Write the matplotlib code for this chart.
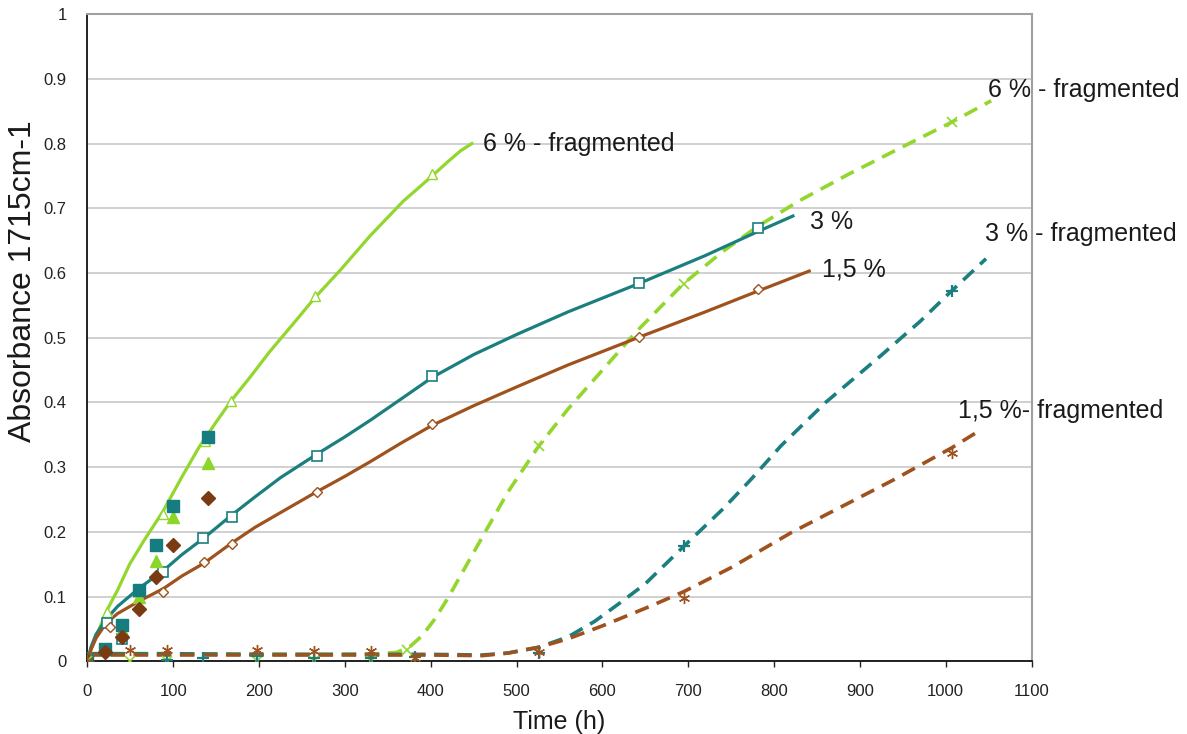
import matplotlib
matplotlib.use("Agg")
import matplotlib.pyplot as plt

plt.rcParams['font.family'] = ['Liberation Sans', 'DejaVu Sans']

green = '#93d62e'
teal = '#1b7f7f'
brown = '#a0521e'

## measured points (open markers) with their fitted curves
t6 = [0, 23, 88, 137, 167, 265, 401]
a6 = [0, 0.077, 0.228, 0.341, 0.402, 0.564, 0.753]
t3 = [0, 23, 40, 88, 135, 168, 267, 402, 643, 781]
a3 = [0, 0.060, 0.035, 0.138, 0.191, 0.223, 0.317, 0.441, 0.584, 0.670]
t15 = [0, 26, 88, 136, 168, 267, 402, 643, 781]
a15 = [0, 0.054, 0.108, 0.154, 0.182, 0.261, 0.367, 0.501, 0.576]

fit6_t = [0, 5, 12, 23, 35, 49, 65, 88, 110, 130, 150, 167, 190, 212, 240, 265,
          295, 329, 368, 400, 420, 435, 448]
fit6_a = [0, 0.022, 0.045, 0.080, 0.110, 0.150, 0.185, 0.232, 0.285, 0.331, 0.370,
          0.402, 0.440, 0.478, 0.522, 0.562, 0.605, 0.657, 0.711, 0.748, 0.772, 0.789, 0.800]
fit3_t = [0, 4, 10, 21, 35, 60, 89, 110, 135, 167, 195, 225, 267, 300, 330, 365,
          402, 450, 500, 560, 643, 720, 781, 822]
fit3_a = [0, 0.022, 0.042, 0.064, 0.085, 0.113, 0.141, 0.165, 0.190, 0.225, 0.254,
          0.284, 0.320, 0.347, 0.373, 0.405, 0.439, 0.474, 0.505, 0.540, 0.584, 0.627, 0.664, 0.688]
fit15_t = [0, 4, 10, 21, 35, 60, 89, 110, 136, 167, 195, 225, 267, 300, 330, 365,
           402, 450, 500, 560, 643, 720, 781, 841]
fit15_a = [0, 0.018, 0.036, 0.058, 0.074, 0.093, 0.113, 0.132, 0.152, 0.182, 0.207,
           0.230, 0.262, 0.286, 0.309, 0.337, 0.365, 0.395, 0.424, 0.458, 0.501, 0.540, 0.572, 0.603]

## filled markers, no line
tf = [0, 20, 40, 60, 80, 100, 140]
f6 = [0, 0.020, 0.049, 0.100, 0.155, 0.223, 0.307]
f3 = [0, 0.020, 0.057, 0.110, 0.180, 0.240, 0.346]
f15 = [0, 0.015, 0.038, 0.081, 0.131, 0.180, 0.253]

## fragmented
fr6_t = [0, 50, 93, 198, 264, 330, 372, 526, 695, 1007]
fr6_a = [0, 0, 0, 0, 0, 0, 0.018, 0.333, 0.583, 0.833]
fr3_t = [0, 93, 135, 198, 264, 330, 382, 526, 695, 1007]
fr3_a = [0, 0.002, 0.005, 0.008, 0.005, 0.005, 0.007, 0.013, 0.178, 0.572]
fr15_t = [0, 50, 93, 198, 264, 330, 382, 526, 695, 1007]
fr15_a = [0, 0.018, 0.018, 0.018, 0.016, 0.016, 0.005, 0.015, 0.098, 0.322]

frfit6_t = [0, 100, 200, 300, 340, 360, 375, 390, 405, 420, 440, 460, 490, 526, 560,
            600, 640, 694, 740, 781, 830, 886, 950, 1007, 1053]
frfit6_a = [0.012, 0.012, 0.011, 0.011, 0.012, 0.014, 0.022, 0.040, 0.066, 0.098, 0.145,
            0.192, 0.262, 0.333, 0.390, 0.450, 0.510, 0.583, 0.633, 0.672, 0.712, 0.752,
            0.795, 0.833, 0.866]
frfit3_t = [0, 100, 200, 300, 400, 460, 490, 526, 560, 591, 620, 650, 695, 740, 773,
            808, 860, 925, 970, 1005, 1047]
frfit3_a = [0.012, 0.012, 0.011, 0.011, 0.011, 0.010, 0.013, 0.022, 0.038, 0.062, 0.090,
            0.120, 0.178, 0.235, 0.281, 0.333, 0.400, 0.473, 0.525, 0.570, 0.622]
frfit15_t = [0, 100, 200, 300, 400, 460, 490, 526, 560, 600, 657, 695, 750, 820, 880,
             940, 1007, 1040]
frfit15_a = [0.010, 0.010, 0.010, 0.010, 0.010, 0.009, 0.013, 0.022, 0.035, 0.055, 0.086,
             0.108, 0.145, 0.199, 0.240, 0.281, 0.330, 0.357]

labels = ["6 % - fragmented", "6 % - fragmented", "3 %", "3 % - fragmented", "1,5 %", "1,5 %- fragmented"]
label_pos = [(461, 0.800), (1049, 0.883), (842, 0.679), (1046, 0.660), (856, 0.605), (1014, 0.387)]

fig = plt.figure(figsize=(11.87, 7.34), dpi=100)
ax = fig.add_axes([0.0737, 0.0988, 0.7953, 0.8821])

dash = (4, 2.4)
ax.plot(frfit6_t, frfit6_a, color=green, lw=2.6, dashes=dash, zorder=3)
ax.plot(frfit3_t, frfit3_a, color=teal, lw=2.6, dashes=dash, zorder=3)
ax.plot(frfit15_t, frfit15_a, color=brown, lw=2.6, dashes=dash, zorder=3)

ax.plot(fit6_t, fit6_a, color=green, lw=2.3, zorder=4)
ax.plot(fit3_t, fit3_a, color=teal, lw=2.3, zorder=4)
ax.plot(fit15_t, fit15_a, color=brown, lw=2.3, zorder=4)

ax.plot(t6, a6, ls='none', marker='^', ms=7, mfc='white', mec=green, mew=1, zorder=5)
ax.plot(t3, a3, ls='none', marker='s', ms=7, mfc='white', mec=teal, mew=1.2, zorder=5)
ax.plot(t15, a15, ls='none', marker='D', ms=5.5, mfc='white', mec=brown, mew=1, zorder=5)

ax.plot(tf, f6, ls='none', marker='^', ms=8, color='#8cd62a', zorder=5)
ax.plot(tf, f3, ls='none', marker='s', ms=8, color='#157c7f', zorder=5)
ax.plot(tf, f15, ls='none', marker='D', ms=7, color='#7a3a12', zorder=5)

ax.plot(fr6_t, fr6_a, ls='none', marker='x', ms=7, mec=green, mew=1.2, zorder=5)
ax.plot(fr3_t, fr3_a, ls='none', marker='+', ms=8, mec=teal, mew=1.6, zorder=5)
ax.plot(fr15_t, fr15_a, ls='none', marker=(6, 2, 0), ms=8, mec=brown, mew=1, zorder=5)

for txt, (x, y) in zip(labels, label_pos):
    ax.text(x, y, txt, fontsize=18, color='#1a1a1a', ha='left', va='center', clip_on=False, zorder=6)

ax.set_xlim(0, 1100)
ax.set_ylim(0, 1)
ax.set_xticks(range(0, 1101, 100))
ax.set_yticks([i / 10 for i in range(11)])
ax.set_yticklabels(["0"] + ["0.%d" % i for i in range(1, 10)] + ["1"])
ax.tick_params(axis='x', direction='out', length=4, width=1, pad=12, labelsize=12, colors='#222222')
ax.tick_params(axis='y', length=0, pad=15, labelsize=12, colors='#222222')
ax.yaxis.grid(True, color='#c8c8c8', lw=1.2)
ax.set_axisbelow(True)
for s in ['top', 'right']:
    ax.spines[s].set_color('#a0a0a0')
    ax.spines[s].set_linewidth(1.5)
for s in ['left', 'bottom']:
    ax.spines[s].set_color('#111111')
    ax.spines[s].set_linewidth(1.3)

ax.set_xlabel("Time (h)", fontsize=18, color='#1a1a1a', labelpad=8)
ax.set_ylabel("Absorbance 1715cm-1", fontsize=23, color='#1a1a1a')
ax.yaxis.set_label_coords(-0.052, 0.588)

fig.savefig("out.png", dpi=100)
